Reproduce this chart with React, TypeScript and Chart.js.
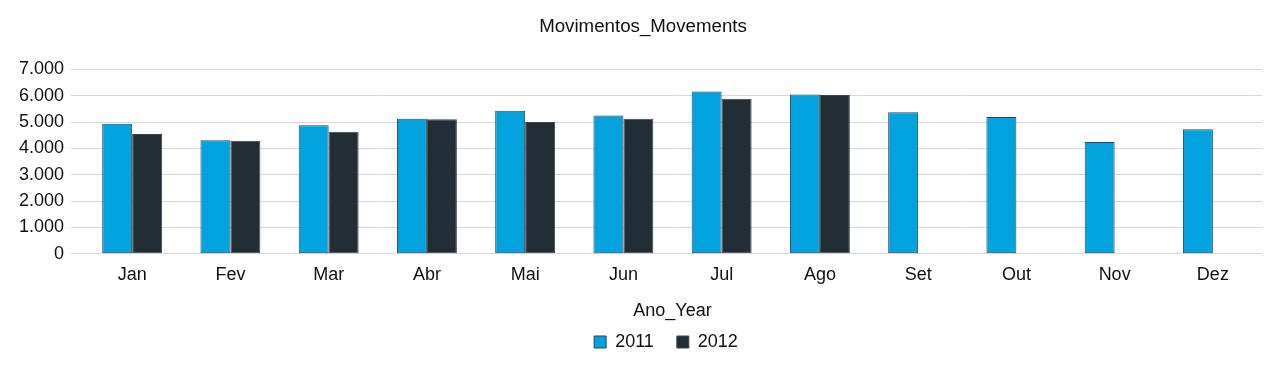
import React, { useEffect, useRef } from "react";
import { Chart, registerables } from "chart.js";

Chart.register(...registerables);

const title = "Movimentos_Movements";
const xTitle = "Ano_Year";
const categories = ["Jan", "Fev", "Mar", "Abr", "Mai", "Jun", "Jul", "Ago", "Set", "Out", "Nov", "Dez"];
const series2011 = [4940, 4310, 4880, 5130, 5430, 5255, 6160, 6050, 5370, 5190, 4245, 4725];
const series2012: (number | null)[] = [4550, 4290, 4635, 5105, 5000, 5130, 5885, 6025, null, null, null, null];
const seriesNames = ["2011", "2012"];
const yMax = 7000;
const yStep = 1000;

const FONT = "'Liberation Sans', Arial, sans-serif";

function fmt(v: number) {
  return String(Math.round(v)).replace(/\B(?=(\d{3})+(?!\d))/g, ".");
}

const nudgePlugin = {
  id: "nudge",
  afterLayout(chart: any) {
    const lg = chart.legend;
    if (lg) {
      lg.left += 29;
      lg.right += 29;
      lg.top -= 12;
      lg.bottom -= 12;
    }
    const tb = chart.titleBlock;
    if (tb) {
      tb.left += 6;
      tb.right += 6;
    }
  },
};

export default function App() {
  const ref = useRef<HTMLCanvasElement | null>(null);
  useEffect(() => {
    if (!ref.current) return;
    const chart = new Chart(ref.current, {
      type: "bar",
      data: {
        labels: categories,
        datasets: [
          {
            label: seriesNames[0],
            data: series2011,
            backgroundColor: "#00a3dd",
            borderColor: "#2b4656",
            borderWidth: 1,
            borderSkipped: false,
            categoryPercentage: 0.61,
            barPercentage: 1,
          },
          {
            label: seriesNames[1],
            data: series2012,
            backgroundColor: "#222d36",
            borderColor: "#3a444c",
            borderWidth: 1,
            borderSkipped: false,
            categoryPercentage: 0.61,
            barPercentage: 1,
          },
        ],
      },
      plugins: [nudgePlugin],
      options: {
        animation: false,
        responsive: true,
        maintainAspectRatio: false,
        layout: { padding: { left: 4, right: 11, top: 0, bottom: -10 } },
        plugins: {
          title: {
            display: true,
            text: title,
            color: "#111",
            font: { family: FONT, size: 18.7, weight: "normal" },
            padding: { top: 8, bottom: 31 },
          },
          legend: {
            display: true,
            position: "bottom",
            labels: {
              color: "#111",
              font: { family: FONT, size: 18 },
              boxWidth: 12,
              boxHeight: 12,
              padding: 23,
            },
          },
          tooltip: { enabled: false },
        },
        scales: {
          x: {
            grid: { display: false },
            border: { display: false },
            ticks: { color: "#111", font: { family: FONT, size: 18 }, padding: 2 },
            title: {
              display: true,
              text: xTitle,
              color: "#111",
              font: { family: FONT, size: 18 },
              padding: { top: 13, bottom: 0 },
            },
          },
          y: {
            min: 0,
            max: yMax,
            grid: { color: "#d6d6e6", lineWidth: 1, tickLength: 12, drawTicks: true },
            border: { display: false },
            ticks: {
              stepSize: yStep,
              color: "#111",
              font: { family: FONT, size: 18 },
              padding: 7,
              callback: (v: any) => fmt(Number(v)),
            },
          },
        },
      },
    });
    return () => chart.destroy();
  }, []);
  return (
    <div style={{ width: "100%", height: 355, position: "relative" }}>
      <canvas ref={ref} />
    </div>
  );
}
